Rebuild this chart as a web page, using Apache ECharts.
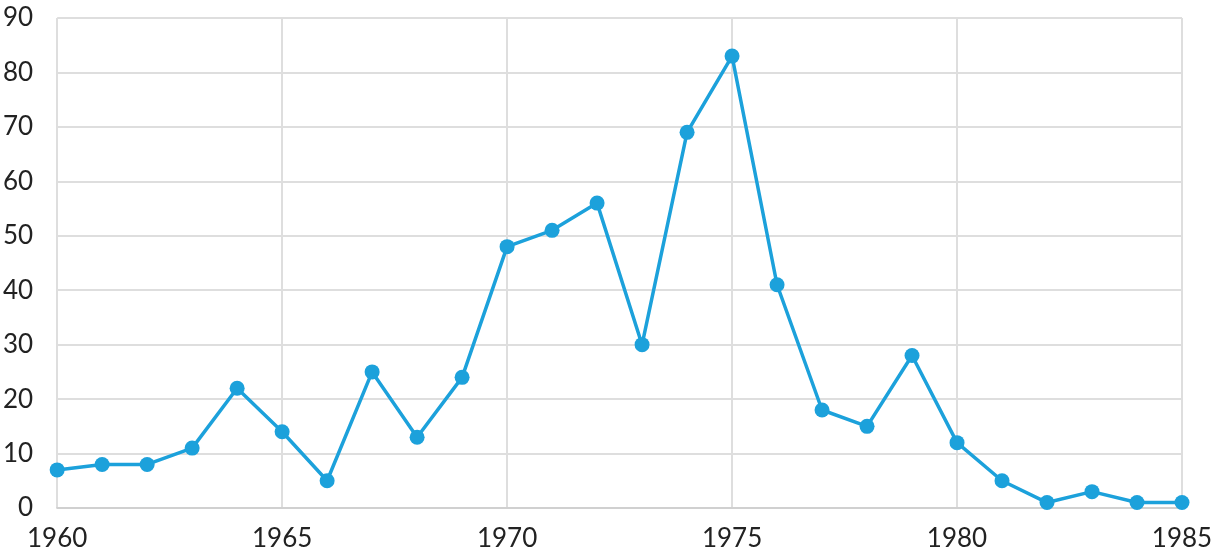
<!DOCTYPE html>
<html>
<head>
<meta charset="utf-8">
<script src="https://cdn.jsdelivr.net/npm/echarts@6/dist/echarts.min.js"></script>
<style>html,body{margin:0;padding:0;background:#fff}#c{width:1217px;height:558px}</style>
</head>
<body>
<div id="c"></div>
<script>
const years = [1960,1961,1962,1963,1964,1965,1966,1967,1968,1969,1970,1971,1972,1973,1974,1975,1976,1977,1978,1979,1980,1981,1982,1983,1984,1985];
const values = [7,8,8,11,22,14,5,25,13,24,48,51,56,30,69,83,41,18,15,28,12,5,1,3,1,1];
const xMin = 1960, xMax = 1985, xStep = 5;
const yMin = 0, yMax = 90, yStep = 10;

const chart = echarts.init(document.getElementById('c'), null, {renderer: 'canvas'});
const font = 'Lato';
chart.setOption({
  animation: false,
  grid: {left: 57, right: 35, top: 18, bottom: 50, containLabel: false},
  xAxis: {
    type: 'value', min: xMin, max: xMax, interval: xStep,
    axisLine: {show: true, lineStyle: {color: '#d0d0d0', width: 2}},
    axisTick: {show: false},
    splitLine: {show: true, lineStyle: {color: '#dedede', width: 2}},
    axisLabel: {color: '#222', fontSize: 26, fontFamily: font, margin: 18, formatter: v => String(v)}
  },
  yAxis: {
    type: 'value', min: yMin, max: yMax, interval: yStep,
    axisLine: {show: false},
    axisTick: {show: false},
    splitLine: {show: true, lineStyle: {color: '#dedede', width: 2}},
    axisLabel: {color: '#222', fontSize: 26, fontFamily: font, margin: 24}
  },
  series: [{
    type: 'line',
    data: years.map((y, i) => [y, values[i]]),
    symbol: 'circle', symbolSize: 15,
    lineStyle: {color: '#1ca1db', width: 3.5},
    itemStyle: {color: '#1ca1db'}
  }]
});
</script>
</body>
</html>
